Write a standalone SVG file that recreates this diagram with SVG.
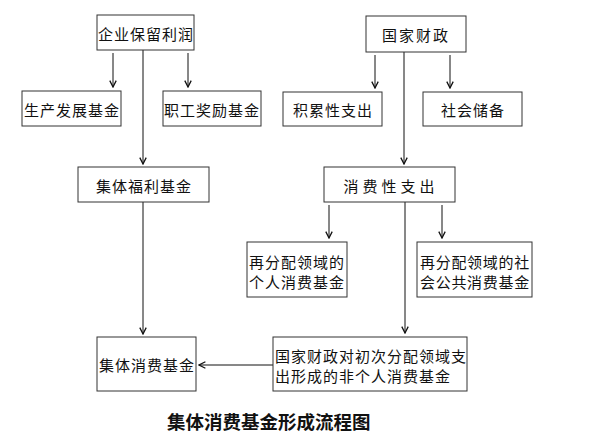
<svg xmlns="http://www.w3.org/2000/svg" width="595" height="441" viewBox="0 0 595 441">
<style>
.box{fill:#fff;stroke:#333;stroke-width:1}
.t{font-family:"Noto Sans CJK SC","Noto Sans CJK JP",sans-serif;font-size:15px;fill:#111;letter-spacing:1px;dominant-baseline:central}
.c{text-anchor:middle}
.ln{stroke:#111;stroke-width:1;fill:none}
.cap{font-family:"Noto Sans CJK SC",sans-serif;font-size:18.5px;font-weight:bold;fill:#111;dominant-baseline:central}
</style>
<defs>
<marker id="ar" viewBox="0 0 10 10" refX="9" refY="5" markerWidth="8" markerHeight="8" orient="auto" markerUnits="userSpaceOnUse">
<path d="M1,1 L9,5 L1,9" fill="none" stroke="#111" stroke-width="1.6"/>
</marker>
</defs>
<rect width="595" height="441" fill="#fff"/>
<g id="connectors">
<line class="ln" x1="113" y1="53" x2="113" y2="87" marker-end="url(#ar)"/>
<line class="ln" x1="188" y1="53" x2="188" y2="87" marker-end="url(#ar)"/>
<line class="ln" x1="143" y1="50" x2="143" y2="164" marker-end="url(#ar)"/>
<line class="ln" x1="143" y1="202" x2="143" y2="334" marker-end="url(#ar)"/>
<line class="ln" x1="375" y1="55" x2="375" y2="88" marker-end="url(#ar)"/>
<line class="ln" x1="450" y1="55" x2="450" y2="88" marker-end="url(#ar)"/>
<line class="ln" x1="404" y1="52" x2="404" y2="164" marker-end="url(#ar)"/>
<line class="ln" x1="329" y1="205" x2="329" y2="238" marker-end="url(#ar)"/>
<line class="ln" x1="442" y1="205" x2="442" y2="238" marker-end="url(#ar)"/>
<line class="ln" x1="405" y1="202" x2="405" y2="333" marker-end="url(#ar)"/>
<line class="ln" x1="273" y1="365" x2="199" y2="365" marker-end="url(#ar)"/>
</g>
<g id="n1"><rect class="box" x="97" y="15" width="97" height="35"/><text class="t c" x="146" y="33">企业保留利润</text></g>
<g id="n2"><rect class="box" x="22" y="91" width="99" height="35"/><text class="t c" x="72" y="109">生产发展基金</text></g>
<g id="n3"><rect class="box" x="163" y="91" width="98" height="35"/><text class="t c" x="212" y="109">职工奖励基金</text></g>
<g id="n4"><rect class="box" x="78" y="167" width="131" height="35"/><text class="t c" x="144" y="185">集体福利基金</text></g>
<g id="n5"><rect class="box" x="366" y="16" width="100" height="36"/><text class="t c" x="416" y="34" style="letter-spacing:2px">国家财政</text></g>
<g id="n6"><rect class="box" x="283" y="92" width="99" height="34"/><text class="t c" x="333" y="109">积累性支出</text></g>
<g id="n7"><rect class="box" x="423" y="92" width="99" height="34"/><text class="t c" x="473" y="109">社会储备</text></g>
<g id="n8"><rect class="box" x="324" y="167" width="131" height="35"/><text class="t c" x="391" y="185" style="letter-spacing:4px">消费性支出</text></g>
<g id="n9"><rect class="box" x="247" y="242" width="100" height="55"/><text class="t" x="249" y="261">再分配领域的</text><text class="t" x="249" y="281">个人消费基金</text></g>
<g id="n10"><rect class="box" x="417" y="242" width="115" height="55"/><text class="t" x="420" y="261" style="letter-spacing:0.7px">再分配领域的社</text><text class="t" x="420" y="281" style="letter-spacing:0.7px">会公共消费基金</text></g>
<g id="n11"><rect class="box" x="273" y="337" width="194" height="54"/><text class="t" x="275" y="355">国家财政对初次分配领域支</text><text class="t" x="275" y="375">出形成的非个人消费基金</text></g>
<g id="n12"><rect class="box" x="97" y="337" width="99" height="54"/><text class="t c" x="147" y="364">集体消费基金</text></g>
<text class="cap" x="167" y="421">集体消费基金形成流程图</text>
</svg>
